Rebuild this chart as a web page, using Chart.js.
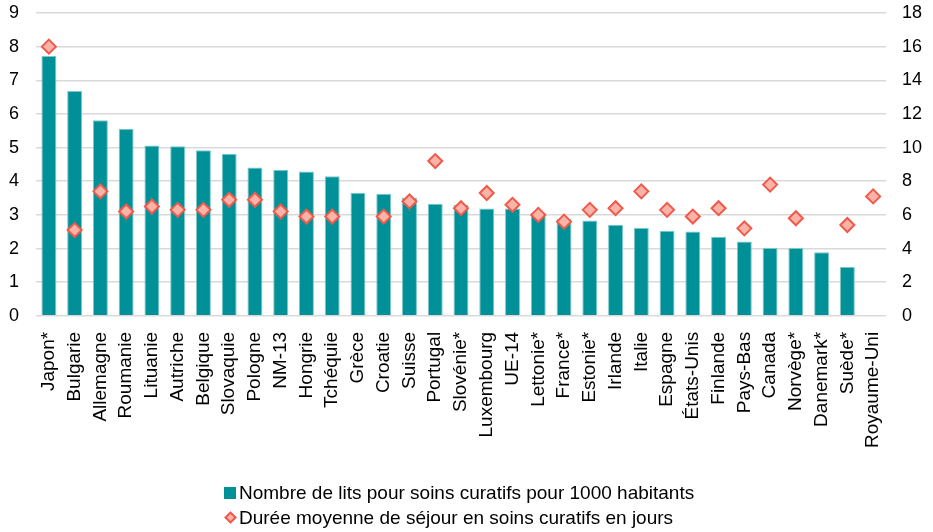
<!DOCTYPE html>
<html>
<head>
<meta charset="utf-8">
<script src="https://cdn.jsdelivr.net/npm/chart.js@4"></script>
<style>
  html, body { margin: 0; padding: 0; background: #fff; }
  #wrap { position: relative; width: 933px; height: 532px; }
  #legend { position: absolute; left: 224px; top: 480px; font-family: "Liberation Sans", Arial, sans-serif; font-size: 19px; color: #000; line-height: 25px; }
  .item { display: flex; align-items: center; white-space: nowrap; }
  .sq { display: inline-block; width: 12px; height: 12px; background: #009098; margin-right: 3px; }
  .dm { display: inline-block; width: 9px; height: 9px; background: #F9B3A8; border: 2px solid #F15A4A; transform: rotate(45deg); margin: 0 4px 0 2px; box-sizing: border-box; }
</style>
</head>
<body>
<div id="wrap">
  <canvas id="c" width="933" height="532"></canvas>
  <div id="legend">
    <div class="item"><span class="sq"></span>Nombre de lits pour soins curatifs pour 1000 habitants</div>
    <div class="item"><span class="dm"></span>Durée moyenne de séjour en soins curatifs en jours</div>
  </div>
</div>
<script>
const categories = ['Japon*','Bulgarie','Allemagne','Roumanie','Lituanie','Autriche','Belgique','Slovaquie','Pologne','NM-13','Hongrie','Tchéquie','Grèce','Croatie','Suisse','Portugal','Slovénie*','Luxembourg','UE-14','Lettonie*','France*','Estonie*','Irlande','Italie','Espagne','États-Unis','Finlande','Pays-Bas','Canada','Norvège*','Danemark*','Suède*','Royaume-Uni'];
const beds = [7.72,6.68,5.81,5.56,5.06,5.04,4.92,4.82,4.41,4.34,4.29,4.15,3.66,3.63,3.51,3.33,3.30,3.19,3.19,3.06,2.88,2.83,2.71,2.61,2.53,2.51,2.35,2.21,2.02,2.02,1.89,1.45,null];
const stay = [16.0,5.1,7.4,6.2,6.5,6.3,6.3,6.9,6.9,6.2,5.9,5.9,null,5.9,6.8,9.2,6.4,7.3,6.6,6.0,5.6,6.3,6.4,7.4,6.3,5.9,6.4,5.2,7.8,5.8,null,5.4,7.1];
const leftTicks = [0,1,2,3,4,5,6,7,8,9];
const rightTicks = [0,2,4,6,8,10,12,14,16,18];
const bedsLabel = 'Nombre de lits pour soins curatifs pour 1000 habitants';
const stayLabel = 'Durée moyenne de séjour en soins curatifs en jours';

const FONT = '"Liberation Sans", Arial, sans-serif';
new Chart(document.getElementById('c'), {
  data: {
    labels: categories,
    datasets: [
      { type: 'line', label: stayLabel, data: stay, yAxisID: 'y2', showLine: false,
        pointStyle: 'rectRot', pointRadius: 7, pointHoverRadius: 7,
        pointBackgroundColor: '#F9B3A8', pointBorderColor: '#F15A4A', pointBorderWidth: 2, order: 0 },
      { type: 'bar', label: bedsLabel, data: beds, yAxisID: 'y',
        backgroundColor: '#009098', borderColor: '#7CC7CB', borderWidth: {top:1,left:1,right:1,bottom:0},
        barPercentage: 0.58, categoryPercentage: 1.0, order: 1 }
    ]
  },
  options: {
    responsive: false,
    animation: false,
    layout: { padding: { left: 0, right: 0, top: 0, bottom: 76 } },
    plugins: { legend: { display: false }, tooltip: { enabled: false } },
    scales: {
      x: {
        grid: { display: false }, border: { display: false },
        ticks: { font: { family: FONT, size: 19 }, color: '#000', minRotation: 90, maxRotation: 90, autoSkip: false, padding: 8 }
      },
      y: {
        position: 'left', min: leftTicks[0], max: leftTicks[leftTicks.length - 1],
        grid: { color: '#D9D9D9', lineWidth: 1.5, drawTicks: false },
        border: { display: false },
        ticks: { stepSize: leftTicks[1] - leftTicks[0], font: { family: FONT, size: 18 }, color: '#000', padding: 17 },
        afterFit: s => { s.width = 36; s.paddingTop = 13; s.paddingBottom = 0; }
      },
      y2: {
        position: 'right', min: rightTicks[0], max: rightTicks[rightTicks.length - 1],
        grid: { display: false, drawTicks: false }, border: { display: false },
        ticks: { stepSize: rightTicks[1] - rightTicks[0], font: { family: FONT, size: 18 }, color: '#000', padding: 16 },
        afterFit: s => { s.width = 47; s.paddingTop = 13; s.paddingBottom = 0; }
      }
    }
  }
});
</script>
</body>
</html>
